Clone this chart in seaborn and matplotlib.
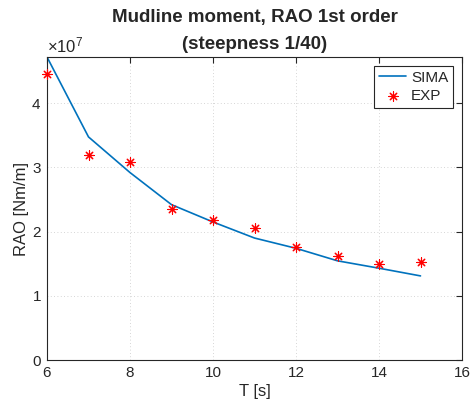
import matplotlib
matplotlib.use("Agg")
import matplotlib.pyplot as plt
import seaborn as sns
import pandas as pd
from matplotlib.ticker import ScalarFormatter

T_sima = [6, 7, 8, 9, 10, 11, 12, 13, 14, 15]
rao_sima = [4.72e7, 3.475e7, 2.92e7, 2.42e7, 2.15e7, 1.90e7, 1.74e7, 1.545e7, 1.43e7, 1.31e7]
T_exp = [6, 7, 8, 9, 10, 11, 12, 13, 14, 15]
rao_exp = [4.45e7, 3.19e7, 3.08e7, 2.355e7, 2.18e7, 2.05e7, 1.76e7, 1.62e7, 1.49e7, 1.52e7]
xticks = [6, 8, 10, 12, 14, 16]
yticks = [0, 1e7, 2e7, 3e7, 4e7]

sns.set_style("white")
plt.rcParams['font.family'] = ['Liberation Sans', 'DejaVu Sans']
plt.rcParams['mathtext.fontset'] = 'custom'
plt.rcParams['mathtext.rm'] = 'Liberation Sans'

df_sima = pd.DataFrame({"T": T_sima, "RAO": rao_sima})
df_exp = pd.DataFrame({"T": T_exp, "RAO": rao_exp})

fig = plt.figure(figsize=(4.73, 4.07), dpi=100)
ax = fig.add_axes([47/473, 1 - 360/407, (462-47)/473, (360-57)/407])

sns.lineplot(data=df_sima, x="T", y="RAO", ax=ax, color="#0072BD", lw=1.2, label="SIMA")
sns.scatterplot(data=df_exp, x="T", y="RAO", ax=ax, color="#FF0000", marker=(8, 2, 0),
                s=45, linewidth=0.8, edgecolor="#FF0000", label="EXP", clip_on=False, zorder=5)

ax.set_xlim(6, 16)
ax.set_ylim(0, max(rao_sima))
ax.set_xticks(xticks)
ax.set_yticks(yticks)
fmt = ScalarFormatter(useMathText=True)
fmt.set_powerlimits((0, 0))
ax.yaxis.set_major_formatter(fmt)
ax.yaxis.get_offset_text().set_fontsize(12)
ax.yaxis.get_offset_text().set_color("#262626")

ax.grid(True, linestyle=(0, (1, 3)), color="#c8c8c8", lw=0.6)
for s in ax.spines.values():
    s.set_visible(True)
    s.set_color("#262626")
    s.set_linewidth(0.8)
ax.tick_params(direction="in", length=4, width=0.8, color="#262626", labelsize=11,
               top=True, right=True, labelcolor="#262626", pad=4)

ax.set_xlabel("T [s]", fontsize=12, color="#262626", labelpad=3)
ax.set_ylabel("RAO [Nm/m]", fontsize=12, color="#262626", labelpad=2)
ax.set_title("Mudline moment, RAO 1st order\n(steepness 1/40)", fontsize=13.5,
             fontweight="bold", linespacing=1.75, pad=6)

leg = ax.legend(loc="upper right", fontsize=11, frameon=True, fancybox=False,
                edgecolor="#262626", framealpha=1, borderaxespad=0.6,
                handlelength=1.8, handletextpad=0.3, borderpad=0.3, labelspacing=0.3)
leg.get_frame().set_linewidth(0.8)

fig.savefig("out.png", dpi=100)
